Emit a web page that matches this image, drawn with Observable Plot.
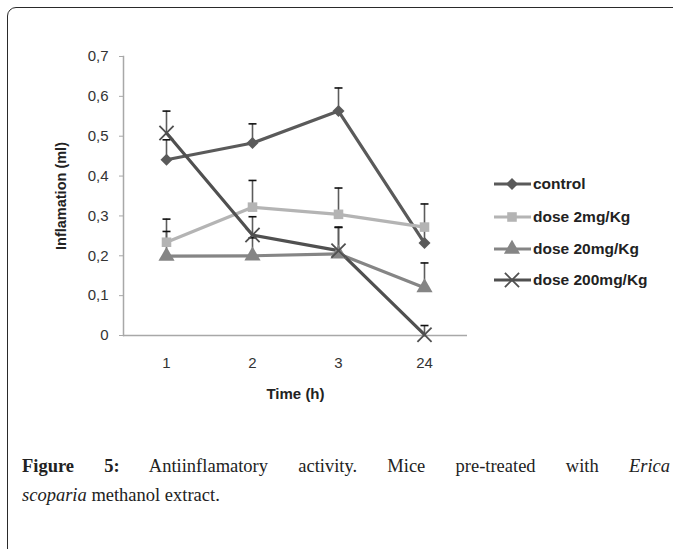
<!DOCTYPE html>
<html>
<head>
<meta charset="utf-8">
<script src="https://cdn.jsdelivr.net/npm/d3@7"></script>
<script src="https://cdn.jsdelivr.net/npm/@observablehq/plot@0.6"></script>
<style>
  html, body { margin: 0; padding: 0; background: #fff; }
  #wrap { position: relative; width: 673px; height: 549px; overflow: hidden; background: #fff; }
  #frame { position: absolute; left: 7px; top: 7px; width: 720px; height: 620px;
           border: 1.6px solid #2a2a2a; border-top-left-radius: 9px; box-sizing: border-box; }
  #chart { position: absolute; left: 0; top: 0; }
  #legend { position: absolute; left: 0; top: 0; }
  #caption { position: absolute; left: 22px; top: 452px; width: 648px;
             font-family: "Liberation Serif", "DejaVu Serif", serif; font-size: 18.5px; line-height: 29px; color: #222; }
  #caption .l1 { text-align: justify; text-align-last: justify; }
</style>
</head>
<body>
<div id="wrap">
  <div id="frame"></div>
  <div id="chart"></div>
  <svg id="legend" width="673" height="420"></svg>
  <div id="caption">
    <div class="l1"><b>Figure 5:</b> Antiinflamatory activity. Mice pre-treated with <i>Erica</i></div>
    <div><i>scoparia</i> methanol extract.</div>
  </div>
</div>
<script>
// ---- data ----
const times = ["1", "2", "3", "24"];
const seriesNames = ["control", "dose 2mg/Kg", "dose 20mg/Kg", "dose 200mg/Kg"];
const seriesColors = ["#5a5a5a", "#b4b4b4", "#858585", "#505050"];
const seriesSymbols = ["diamond2", "square", "triangle", "times"];

const control    = [0.441, 0.483, 0.563, 0.232];
const controlErr = [0.050, 0.048, 0.058, 0.045];
const dose2      = [0.234, 0.322, 0.304, 0.272];
const dose2Err   = [0.058, 0.067, 0.066, 0.058];
const dose20     = [0.199, 0.200, 0.205, 0.120];
const dose20Err  = [0.062, 0.045, 0.066, 0.062];
const dose200    = [0.508, 0.252, 0.213, 0.002];
const dose200Err = [0.055, 0.046, 0.059, 0.023];

const yTicks = [0, 0.1, 0.2, 0.3, 0.4, 0.5, 0.6, 0.7];

const values = [control, dose2, dose20, dose200];
const errors = [controlErr, dose2Err, dose20Err, dose200Err];

const rows = [];
seriesNames.forEach((s, i) => {
  times.forEach((t, j) => {
    rows.push({series: s, time: t, value: values[i][j], top: values[i][j] + errors[i][j]});
  });
});

const capSymbol = {
  draw(context, size) {
    const r = 4;
    context.moveTo(-r, 0);
    context.lineTo(r, 0);
  }
};

const fmt = d => d === 0 ? "0" : d.toFixed(1).replace(".", ",");
const font = "Liberation Sans, Arial, sans-serif";

const chart = Plot.plot({
  width: 673,
  height: 420,
  marginTop: 56,
  marginBottom: 85,
  marginLeft: 123,
  marginRight: 206,
  style: {fontFamily: font, background: "transparent", overflow: "visible"},
  x: {type: "point", domain: times, padding: 0.5, label: null},
  y: {domain: [0, 0.7], label: null},
  color: {domain: seriesNames, range: seriesColors},
  marks: [
    Plot.frame({anchor: "left", stroke: "#a8a8a8", strokeWidth: 1.5}),
    Plot.ruleY([0], {stroke: "#a8a8a8", strokeWidth: 1.5}),
    Plot.axisY({ticks: yTicks, tickFormat: fmt, tickSize: 4, tickPadding: 11,
      stroke: "#a8a8a8", fill: "#333", fontSize: 15, label: null}),
    Plot.axisX({tickSize: 0, tickPadding: 22, fill: "#333", fontSize: 15, label: null}),
    Plot.text(["Inflamation (ml)"], {frameAnchor: "left", textAnchor: "middle", dx: -62, rotate: -90,
      fontWeight: "bold", fontSize: 14.5, fill: "#222"}),
    Plot.text(["Time (h)"], {frameAnchor: "bottom", dy: 63, fontWeight: "bold", fontSize: 15, fill: "#222"}),
    // error bars
    Plot.ruleX(rows, {x: "time", y1: "value", y2: "top", stroke: "#5c5c5c", strokeWidth: 1.6}),
    Plot.dot(rows, {x: "time", y: "top", symbol: capSymbol, r: 4, stroke: "#111", strokeWidth: 1.6, fill: "none"}),
    // lines
    Plot.line(rows, {x: "time", y: "value", z: "series", stroke: "series", strokeWidth: 3.2}),
    // markers
    ...seriesNames.map((s, i) => {
      const sym = seriesSymbols[i];
      const data = rows.filter(d => d.series === s);
      if (sym === "times") {
        return Plot.dot(data, {x: "time", y: "value", symbol: "times", r: 6.5, stroke: seriesColors[i], strokeWidth: 1.8});
      }
      return Plot.dot(data, {x: "time", y: "value", symbol: sym, r: sym === "triangle" ? 6 : 5.4, fill: seriesColors[i], stroke: "none"});
    })
  ]
});
document.getElementById("chart").appendChild(chart);

// ---- legend ----
const leg = d3.select("#legend");
const legY = [184, 217, 249, 280];
const symMap = {
  diamond2: d3.symbolDiamond2, square: d3.symbolSquare, triangle: d3.symbolTriangle, times: d3.symbolTimes
};
seriesNames.forEach((s, i) => {
  const g = leg.append("g").attr("transform", `translate(0,${legY[i]})`);
  g.append("line").attr("x1", 494).attr("x2", 531).attr("y1", 0).attr("y2", 0)
    .attr("stroke", seriesColors[i]).attr("stroke-width", 3.2);
  const sym = seriesSymbols[i];
  const r = sym === "times" ? 6.5 : (sym === "triangle" ? 6 : 5.4);
  const path = d3.symbol(symMap[sym], Math.PI * r * r)();
  const p = g.append("path").attr("d", path).attr("transform", "translate(512,0)");
  if (sym === "times") p.attr("fill", "none").attr("stroke", seriesColors[i]).attr("stroke-width", 1.8);
  else p.attr("fill", seriesColors[i]);
  g.append("text").attr("x", 533).attr("y", 0).attr("dy", "0.35em")
    .attr("font-family", font).attr("font-weight", "bold").attr("font-size", 15.5).attr("fill", "#222")
    .text(s);
});
</script>
</body>
</html>
